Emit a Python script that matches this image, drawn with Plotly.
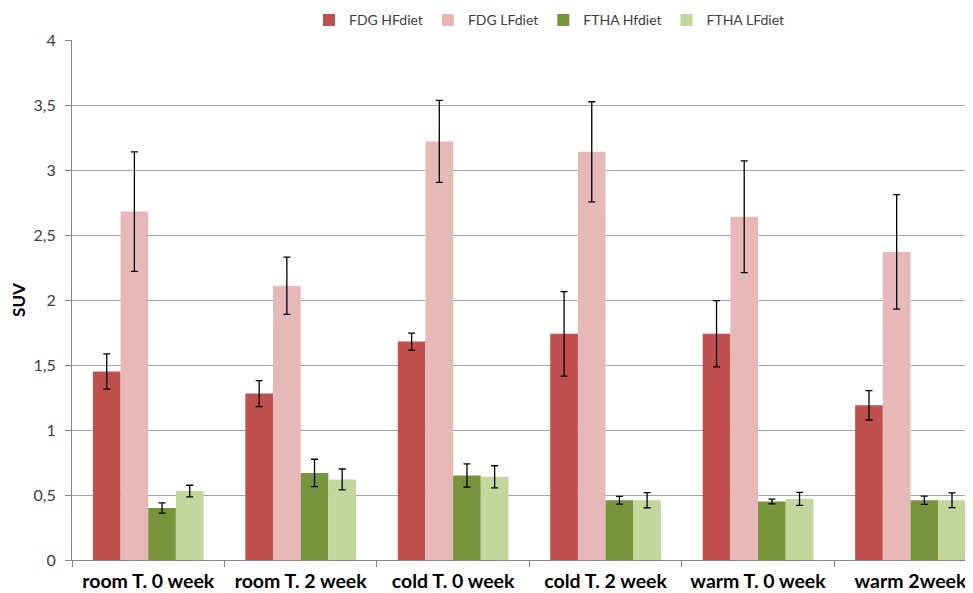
import plotly.graph_objects as go

categories = ["room T. 0 week", "room T. 2 week", "cold T. 0 week",
              "cold T. 2 week", "warm T. 0 week", "warm 2week"]

fdg_hf = [1.45, 1.28, 1.68, 1.74, 1.74, 1.19]
fdg_hf_err = [0.135, 0.10, 0.065, 0.325, 0.255, 0.113]
fdg_lf = [2.68, 2.11, 3.22, 3.14, 2.64, 2.37]
fdg_lf_err = [0.46, 0.22, 0.315, 0.385, 0.43, 0.44]
ftha_hf = [0.40, 0.67, 0.65, 0.46, 0.45, 0.46]
ftha_hf_err = [0.04, 0.105, 0.09, 0.03, 0.018, 0.032]
ftha_lf = [0.53, 0.62, 0.64, 0.46, 0.47, 0.46]
ftha_lf_err = [0.045, 0.08, 0.085, 0.058, 0.05, 0.057]

series_names = ["FDG HFdiet", "FDG LFdiet", "FTHA Hfdiet", "FTHA LFdiet"]
series_colors = ["#C0504D", "#E6B9B8", "#77933C", "#C3D69B"]

y_tickvals = [0, 0.5, 1, 1.5, 2, 2.5, 3, 3.5, 4]
y_ticktext = ["0", "0,5", "1", "1,5", "2", "2,5", "3", "3,5", "4"]

FONT = "Lato, 'Noto Sans', sans-serif"

fig = go.Figure()
for name, vals, errs, col in zip(series_names,
                                 [fdg_hf, fdg_lf, ftha_hf, ftha_lf],
                                 [fdg_hf_err, fdg_lf_err, ftha_hf_err, ftha_lf_err],
                                 series_colors):
    fig.add_trace(go.Bar(
        x=categories, y=vals, name=name,
        marker=dict(color=col, line=dict(width=0)),
        error_y=dict(type="data", array=errs, visible=True,
                     color="#000000", thickness=1.3, width=3.5),
    ))

# page body has an 8px margin, so the figure is 8px smaller and offset
fig.update_layout(
    width=965, height=585,
    margin=dict(l=64, r=0, t=32, b=33, autoexpand=False),
    paper_bgcolor="white", plot_bgcolor="white",
    barmode="group", bargap=0.274, bargroupgap=0,
    font=dict(family=FONT, size=14, color="#404040"),
    legend=dict(orientation="h", x=0.263, xanchor="left",
                yref="container", y=0.979, yanchor="middle",
                font=dict(size=14, color="#404040"), itemwidth=30,
                traceorder="normal"),
    showlegend=True,
)
fig.update_xaxes(
    type="category", range=[-0.5, 5.41],
    showline=True, linecolor="#868686", linewidth=1,
    ticks="outside", tickson="boundaries", ticklen=6, tickcolor="#868686",
    showgrid=False, ticklabelstandoff=4,
    tickfont=dict(family=FONT, size=19.5, color="#000000", weight="bold"),
)
fig.update_yaxes(
    range=[0, 4], tickvals=y_tickvals, ticktext=y_ticktext,
    showline=True, linecolor="#868686", linewidth=1,
    ticks="outside", ticklen=6, tickcolor="#868686",
    showgrid=True, gridcolor="#A6A6A6", gridwidth=1,
    zeroline=False, ticklabelstandoff=6,
    tickfont=dict(family=FONT, size=16, color="#404040"),
    title=dict(text="SUV", font=dict(family=FONT, size=17, color="#000000", weight="bold"),
               standoff=4),
)

fig.write_html("out.html")
